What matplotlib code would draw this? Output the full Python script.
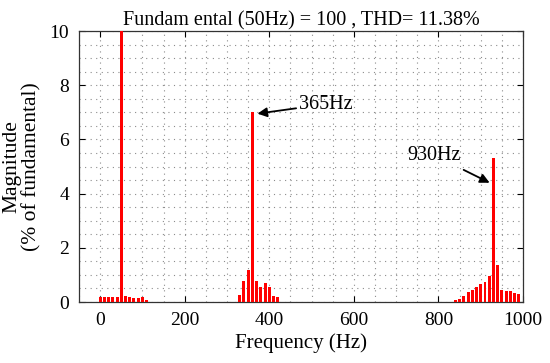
import numpy as np
import matplotlib
matplotlib.use("Agg")
import matplotlib.pyplot as plt
from matplotlib.ticker import MultipleLocator

plt.rcParams["font.family"] = ["Liberation Serif", "DejaVu Serif"]

# harmonic spectrum (Hz, % of fundamental)
freq_low = [0, 10, 20, 30, 40, 50, 60, 70, 80, 90, 100, 110]
mag_low = [0.17, 0.2, 0.2, 0.2, 0.2, 100, 0.23, 0.2, 0.15, 0.13, 0.18, 0.07]

freq_mid = [330, 340, 350, 360, 370, 380, 390, 400, 410, 420]
mag_mid = [0.25, 0.76, 1.19, 7.0, 0.76, 0.55, 0.70, 0.55, 0.23, 0.18]

freq_high = [840, 850, 860, 870, 880, 890, 900, 910, 920, 930,
             940, 950, 960, 970, 980, 990]
mag_high = [0.09, 0.11, 0.21, 0.36, 0.46, 0.57, 0.65, 0.74, 0.95, 5.3,
            1.37, 0.43, 0.42, 0.42, 0.32, 0.28]

freqs = freq_low + freq_mid + freq_high
mags = mag_low + mag_mid + mag_high

fig = plt.figure(figsize=(5.5, 3.63), dpi=100)
ax = fig.add_axes([0.1436, 0.168, 0.8074, 0.7466])

ax.bar(freqs, mags, width=7, color="red", zorder=3)

ax.set_xlim(-50, 1000)
ax.set_ylim(0, 10)
ax.xaxis.set_major_locator(MultipleLocator(200))
ax.xaxis.set_minor_locator(MultipleLocator(50))
ax.yaxis.set_major_locator(MultipleLocator(2))
ax.yaxis.set_minor_locator(MultipleLocator(0.5))
ax.grid(which="both", linestyle=(0, (1, 4)), color="#8c8c8c", linewidth=0.8, zorder=0)
ax.tick_params(which="major", direction="in", top=True, right=True,
               length=4, labelsize=14, pad=7)
ax.tick_params(which="minor", length=0)
for s in ax.spines.values():
    s.set_color("#333333")
    s.set_linewidth(0.9)

ax.set_xlabel("Frequency (Hz)", fontsize=15, labelpad=3)
ax.set_ylabel("Magnitude\n(% of fundamental)", fontsize=15.5, linespacing=1.05, labelpad=6)
ax.set_title("Fundam ental (50Hz) = 100 , THD= 11.38%", fontsize=14.5, pad=4)

ax.annotate("365Hz", xy=(372, 6.95), xytext=(470, 7.3), fontsize=14.5,
            va="center", ha="left",
            arrowprops=dict(arrowstyle="-|>", color="black", lw=1.3,
                            mutation_scale=14, shrinkA=0, shrinkB=0))
ax.annotate("930Hz", xy=(921, 4.4), xytext=(726, 5.42), fontsize=14.5,
            va="center", ha="left",
            arrowprops=dict(arrowstyle="-|>", color="black", lw=1.3,
                            mutation_scale=14, shrinkA=4, shrinkB=0))

fig.savefig("out.png", dpi=100)
